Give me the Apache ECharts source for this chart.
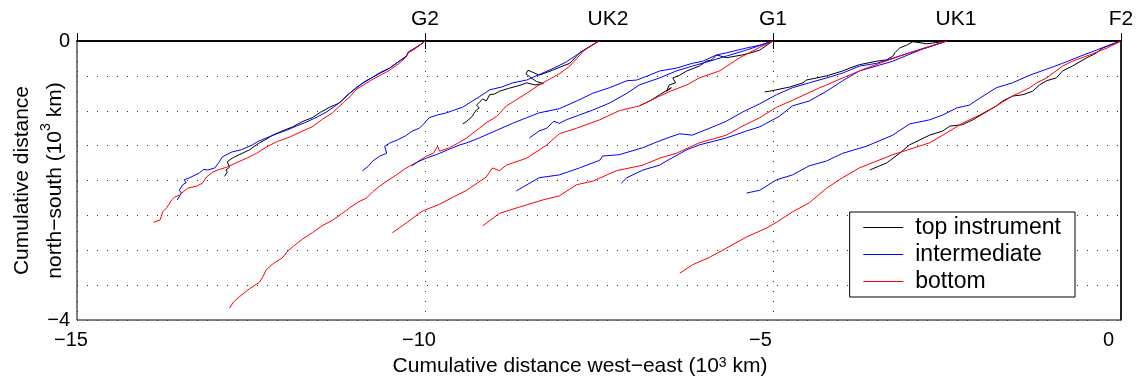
<!DOCTYPE html>
<html>
<head>
<meta charset="utf-8">
<script src="https://cdn.jsdelivr.net/npm/echarts@6/dist/echarts.min.js"></script>
<style>
  html, body { margin: 0; padding: 0; background: #fff; }
  #chart { width: 1137px; height: 387px; }
</style>
</head>
<body>
<div id="chart"></div>
<script>
// mooring positions on the top axis (10^3 km west-east)
const mooringPos = [-10, -7.5, -5, -2.5, 0];
const mooringNames = ["G2", "UK2", "G1", "UK1", "F2"];
const xTicks = [-15, -10, -5, 0];
const yTickLabels = { "0": "0", "-4": "\u22124" };
const seriesNames = ["top instrument", "intermediate", "bottom"];

// progressive vector tracks [west-east, north-south], 10^3 km
const g2Top = [[-10,0],[-10.05,-0.04],[-10.14,-0.10],[-10.24,-0.16],[-10.27,-0.22],[-10.37,-0.29],[-10.51,-0.39],[-10.64,-0.45],[-10.77,-0.53],[-10.88,-0.59],[-10.98,-0.67],[-11.1,-0.76],[-11.23,-0.89],[-11.30,-0.92],[-11.37,-0.95],[-11.5,-1.02],[-11.62,-1.10],[-11.75,-1.15],[-11.90,-1.23],[-12.05,-1.29],[-12.19,-1.35],[-12.30,-1.42],[-12.38,-1.46],[-12.52,-1.56],[-12.67,-1.63],[-12.77,-1.68],[-12.84,-1.73],[-12.81,-1.81],[-12.86,-1.85],[-12.84,-1.88],[-12.88,-1.94]];
const g2Mid = [[-10,0],[-10.05,-0.04],[-10.14,-0.10],[-10.24,-0.16],[-10.27,-0.22],[-10.37,-0.29],[-10.51,-0.39],[-10.64,-0.46],[-10.77,-0.53],[-10.98,-0.66],[-11.08,-0.75],[-11.19,-0.85],[-11.30,-0.94],[-11.42,-1.02],[-11.55,-1.09],[-11.70,-1.16],[-11.85,-1.22],[-11.99,-1.28],[-12.13,-1.33],[-12.28,-1.39],[-12.40,-1.44],[-12.48,-1.49],[-12.64,-1.56],[-12.77,-1.59],[-12.91,-1.66],[-12.96,-1.74],[-13.02,-1.82],[-13.12,-1.85],[-13.18,-1.84],[-13.24,-1.89],[-13.38,-1.96],[-13.46,-1.99],[-13.43,-2.03],[-13.48,-2.06],[-13.53,-2.14],[-13.50,-2.18],[-13.56,-2.28]];
const g2Bot = [[-10,0],[-10.05,-0.04],[-10.14,-0.11],[-10.24,-0.17],[-10.27,-0.23],[-10.37,-0.32],[-10.51,-0.42],[-10.64,-0.49],[-10.77,-0.56],[-10.98,-0.69],[-11.08,-0.80],[-11.16,-0.87],[-11.33,-1.03],[-11.47,-1.12],[-11.62,-1.23],[-11.78,-1.30],[-11.95,-1.38],[-12.12,-1.44],[-12.28,-1.52],[-12.42,-1.61],[-12.56,-1.68],[-12.70,-1.74],[-12.85,-1.81],[-12.95,-1.84],[-13.05,-1.88],[-13.14,-1.95],[-13.20,-2.04],[-13.28,-2.08],[-13.41,-2.11],[-13.53,-2.21],[-13.60,-2.24],[-13.64,-2.28],[-13.71,-2.39],[-13.77,-2.45],[-13.79,-2.52],[-13.81,-2.57],[-13.85,-2.58],[-13.90,-2.60]];

const uk2Top = [[-7.5,0],[-7.62,-0.07],[-7.78,-0.17],[-7.92,-0.32],[-8.05,-0.37],[-8.17,-0.42],[-8.36,-0.49],[-8.45,-0.45],[-8.52,-0.42],[-8.55,-0.47],[-8.50,-0.51],[-8.40,-0.58],[-8.30,-0.61],[-8.42,-0.63],[-8.54,-0.60],[-8.62,-0.63],[-8.69,-0.65],[-8.80,-0.68],[-8.93,-0.72],[-9.00,-0.76],[-9.07,-0.77],[-9.12,-0.86],[-9.17,-0.83],[-9.22,-0.88],[-9.26,-0.92],[-9.22,-0.96],[-9.26,-0.99],[-9.30,-1.04],[-9.32,-1.08],[-9.40,-1.15],[-9.46,-1.19]];
const uk2Mid = [[-7.5,0],[-7.71,-0.13],[-7.85,-0.22],[-7.97,-0.30],[-8.15,-0.39],[-8.31,-0.46],[-8.45,-0.52],[-8.54,-0.56],[-8.74,-0.60],[-8.90,-0.66],[-9.07,-0.70],[-9.22,-0.80],[-9.35,-0.88],[-9.46,-0.95],[-9.58,-0.99],[-9.69,-1.03],[-9.82,-1.06],[-9.94,-1.10],[-10.02,-1.19],[-10.08,-1.25],[-10.18,-1.29],[-10.28,-1.36],[-10.40,-1.42],[-10.50,-1.46],[-10.58,-1.51],[-10.55,-1.61],[-10.65,-1.65],[-10.75,-1.72],[-10.82,-1.80],[-10.90,-1.86]];
const uk2Bot = [[-7.5,0],[-7.71,-0.13],[-7.92,-0.36],[-8.07,-0.47],[-8.36,-0.63],[-8.54,-0.75],[-8.70,-0.85],[-8.83,-0.93],[-8.97,-1.08],[-9.10,-1.16],[-9.22,-1.25],[-9.40,-1.39],[-9.52,-1.46],[-9.65,-1.53],[-9.79,-1.58],[-9.82,-1.51],[-9.88,-1.61],[-9.98,-1.65],[-10.12,-1.74],[-10.27,-1.82],[-10.41,-1.92],[-10.52,-1.99],[-10.65,-2.08],[-10.75,-2.16],[-10.84,-2.25],[-10.96,-2.31],[-11.08,-2.39],[-11.20,-2.48],[-11.33,-2.57],[-11.48,-2.65],[-11.62,-2.75],[-11.76,-2.84],[-11.90,-2.95],[-11.98,-3.02],[-12.05,-3.11],[-12.18,-3.19],[-12.28,-3.28],[-12.33,-3.38],[-12.38,-3.46],[-12.52,-3.55],[-12.67,-3.67],[-12.75,-3.74],[-12.81,-3.83]];

const g1Top = [[-5,0],[-5.19,-0.13],[-5.32,-0.17],[-5.44,-0.20],[-5.67,-0.24],[-5.81,-0.20],[-5.88,-0.27],[-5.96,-0.29],[-6.06,-0.36],[-6.24,-0.43],[-6.34,-0.49],[-6.44,-0.53],[-6.40,-0.60],[-6.49,-0.63],[-6.53,-0.72],[-6.46,-0.67],[-6.63,-0.77],[-6.77,-0.86],[-6.92,-0.93]];
const g1Mid = [[-5,0],[-5.19,-0.06],[-5.38,-0.10],[-5.67,-0.17],[-5.81,-0.20],[-6.01,-0.29],[-6.16,-0.32],[-6.39,-0.39],[-6.63,-0.43],[-6.80,-0.50],[-6.96,-0.56],[-7.10,-0.57],[-7.35,-0.67],[-7.59,-0.75],[-7.82,-0.86],[-8.07,-0.97],[-8.36,-1.03],[-8.54,-1.10],[-8.74,-1.18],[-8.97,-1.28],[-9.22,-1.39],[-9.40,-1.46],[-9.50,-1.49],[-9.65,-1.55],[-9.79,-1.61],[-9.98,-1.68],[-10.10,-1.73],[-10.19,-1.79]];
const g1Mid2 = [[-5,0],[-5.38,-0.13],[-5.65,-0.21],[-5.91,-0.29],[-6.16,-0.36],[-6.39,-0.43],[-6.63,-0.53],[-6.92,-0.63],[-7.10,-0.75],[-7.35,-0.89],[-7.59,-0.99],[-7.78,-1.06],[-7.97,-1.13],[-8.07,-1.18],[-8.15,-1.15],[-8.25,-1.25],[-8.36,-1.29],[-8.50,-1.39]];
const g1Bot = [[-5,0],[-5.19,-0.09],[-5.48,-0.24],[-5.77,-0.43],[-6.06,-0.53],[-6.24,-0.63],[-6.45,-0.71],[-6.63,-0.79],[-6.92,-0.93],[-7.21,-1.00],[-7.49,-1.13],[-7.82,-1.25],[-8.07,-1.33],[-8.25,-1.49],[-8.54,-1.68],[-8.83,-1.78],[-8.93,-1.86],[-9.03,-1.82],[-9.12,-1.95],[-9.40,-2.14],[-9.60,-2.24],[-9.79,-2.34],[-10.04,-2.44],[-10.27,-2.61],[-10.47,-2.75]];

const uk1Top = [[-2.5,0],[-2.71,-0.03],[-2.79,-0.04],[-2.99,-0.01],[-3.08,-0.06],[-3.18,-0.10],[-3.25,-0.17],[-3.28,-0.22],[-3.37,-0.27],[-3.51,-0.29],[-3.76,-0.34],[-3.90,-0.39],[-4.00,-0.43],[-4.23,-0.50],[-4.52,-0.56],[-4.57,-0.60],[-4.76,-0.66],[-4.81,-0.67],[-5.05,-0.72],[-5.12,-0.73]];
const uk1Mid = [[-2.5,0],[-3.04,-0.17],[-3.51,-0.32],[-3.76,-0.36],[-4.00,-0.46],[-4.23,-0.53],[-4.48,-0.60],[-4.72,-0.67],[-4.95,-0.77],[-5.19,-0.90],[-5.44,-1.02],[-5.67,-1.15],[-5.91,-1.25],[-6.16,-1.35],[-6.34,-1.33],[-6.49,-1.38],[-6.70,-1.46],[-6.87,-1.53],[-7.21,-1.63],[-7.45,-1.65],[-7.49,-1.71],[-7.78,-1.82],[-8.07,-1.92],[-8.36,-1.96],[-8.69,-2.15]];
const uk1Mid2 = [[-2.5,0],[-2.89,-0.13],[-3.28,-0.29],[-3.76,-0.43],[-4.00,-0.57],[-4.23,-0.72],[-4.48,-0.86],[-4.72,-0.93],[-4.91,-1.08],[-5.19,-1.23],[-5.38,-1.29],[-5.67,-1.39],[-6.06,-1.49],[-6.24,-1.56],[-6.53,-1.72],[-6.63,-1.78],[-6.87,-1.85],[-7.10,-1.96],[-7.18,-2.04]];
const uk1Bot = [[-2.5,0],[-3.04,-0.17],[-3.33,-0.27],[-3.66,-0.39],[-4.00,-0.53],[-4.23,-0.63],[-4.33,-0.67],[-4.72,-0.85],[-4.95,-0.95],[-5.19,-1.10],[-5.44,-1.22],[-5.67,-1.35],[-6.06,-1.46],[-6.39,-1.61],[-6.63,-1.68],[-6.87,-1.78],[-7.25,-1.86],[-7.59,-2.01],[-7.82,-2.06],[-8.07,-2.22],[-8.31,-2.28],[-8.64,-2.38],[-8.93,-2.47],[-9.17,-2.65]];

const f2Top = [[0,0],[-0.16,-0.06],[-0.26,-0.10],[-0.35,-0.17],[-0.49,-0.24],[-0.70,-0.36],[-0.84,-0.43],[-0.93,-0.53],[-1.07,-0.57],[-1.17,-0.63],[-1.27,-0.72],[-1.41,-0.77],[-1.56,-0.79],[-1.70,-0.86],[-1.79,-0.93],[-1.89,-0.99],[-2.13,-1.13],[-2.28,-1.20],[-2.46,-1.22],[-2.56,-1.29],[-2.75,-1.35],[-3.04,-1.49],[-3.18,-1.61],[-3.37,-1.75],[-3.47,-1.79],[-3.61,-1.85]];
const f2Mid = [[0,0],[-0.20,-0.07],[-0.35,-0.13],[-0.59,-0.22],[-0.84,-0.32],[-1.03,-0.39],[-1.31,-0.49],[-1.56,-0.60],[-1.79,-0.67],[-2.03,-0.82],[-2.18,-0.92],[-2.36,-0.96],[-2.56,-1.06],[-2.75,-1.13],[-3.04,-1.19],[-3.28,-1.35],[-3.66,-1.51],[-4.00,-1.61],[-4.23,-1.72],[-4.48,-1.79],[-4.72,-1.92],[-4.95,-1.99],[-5.19,-2.14],[-5.38,-2.18]];
const f2Bot = [[0,0],[-0.20,-0.10],[-0.45,-0.20],[-0.70,-0.29],[-0.84,-0.36],[-1.07,-0.53],[-1.21,-0.60],[-1.31,-0.67],[-1.56,-0.79],[-1.79,-0.93],[-2.03,-1.06],[-2.28,-1.18],[-2.51,-1.32],[-2.75,-1.46],[-3.28,-1.63],[-3.76,-1.82],[-4.00,-1.96],[-4.23,-2.11],[-4.48,-2.32],[-4.72,-2.45],[-4.95,-2.60],[-5.09,-2.68],[-5.38,-2.81],[-5.67,-2.97],[-5.91,-3.10],[-6.16,-3.21],[-6.34,-3.33]];

// [track, instrument level] — level indexes seriesNames
const tracks = [
  [g2Top, 0], [g2Mid, 1], [g2Bot, 2],
  [uk2Top, 0], [uk2Mid, 1], [uk2Bot, 2],
  [g1Top, 0], [g1Mid, 1], [g1Mid2, 1], [g1Bot, 2],
  [uk1Top, 0], [uk1Mid, 1], [uk1Mid2, 1], [uk1Bot, 2],
  [f2Top, 0], [f2Mid, 1], [f2Bot, 2]
];
const colors = ["#000000", "#0000ff", "#ff0000"];
const font = "'Liberation Sans', Arial, Helvetica, sans-serif";

// bottom tick labels sit a little left of their ticks, as in the original
function xLabel(v) {
  const txt = String(v).replace("-", "\u2212");
  return (v === -5 || v === 0) ? "{b|" + txt + "}" : "{a|" + txt + "}";
}

const chart = echarts.init(document.getElementById("chart"));
chart.setOption({
  animation: false,
  color: colors,
  textStyle: { fontFamily: font, color: "#000" },
  grid: {
    left: 77, right: 16, top: 41, bottom: 67,
    outerBoundsMode: "none", containLabel: false,
    show: true, borderColor: "#000", borderWidth: 1
  },
  legend: {
    data: seriesNames.map((name, i) => ({
      name: name,
      itemStyle: { opacity: 0 },
      lineStyle: { color: colors[i], width: 1.2, opacity: 1 }
    })),
    orient: "vertical",
    right: 62,
    top: 212,
    itemWidth: 40,
    itemHeight: 14,
    itemGap: 4,
    padding: [4, 14, 4, 13],
    backgroundColor: "#fff",
    borderColor: "#000",
    borderWidth: 1,
    textStyle: { fontSize: 23, color: "#000", fontFamily: font, padding: [0, 0, 0, 7] }
  },
  xAxis: [
    {
      type: "value", min: -15, max: 0, interval: 5,
      axisLine: { lineStyle: { color: "#000", width: 1.5 } },
      axisTick: { inside: true, length: 8, lineStyle: { color: "#000" } },
      axisLabel: {
        fontSize: 20, color: "#000", margin: 10, formatter: xLabel,
        rich: {
          a: { fontSize: 20, fontFamily: font, padding: [0, 12, 0, 0] },
          b: { fontSize: 20, fontFamily: font, padding: [0, 25, 0, 0] }
        }
      },
      splitLine: { show: true, lineStyle: { color: "#333", type: [1, 9] } },
      name: "Cumulative distance west\u2212east (10{sup|3} km)",
      nameLocation: "middle",
      nameGap: 36,
      nameTextStyle: {
        fontSize: 21, color: "#000", fontFamily: font, padding: [0, 38, 0, 0],
        rich: { sup: { fontSize: 14, verticalAlign: "top", fontFamily: font } }
      }
    },
    {
      type: "value", position: "top", min: -15, max: 0, interval: 2.5,
      axisLine: { lineStyle: { color: "#000", width: 1.5 } },
      axisTick: { inside: true, length: 8, customValues: [-10, -5], lineStyle: { color: "#000" } },
      axisLabel: {
        fontSize: 21, color: "#000", margin: 11,
        customValues: mooringPos,
        formatter: v => {
          const name = mooringNames[mooringPos.indexOf(v)] || "";
          return name.startsWith("UK") ? "{uk|" + name + "}" : name;
        },
        rich: { uk: { fontSize: 21, fontFamily: font, padding: [0, 0, 0, 18] } }
      },
      splitLine: { show: false }
    }
  ],
  yAxis: {
    type: "value", min: -4, max: 0, interval: 0.5,
    axisLine: { lineStyle: { color: "#000", width: 1.5 } },
    axisTick: { show: false },
    axisLabel: { fontSize: 20, color: "#000", margin: 7, formatter: v => yTickLabels[String(v)] || "" },
    splitLine: { show: true, lineStyle: { color: "#333", type: [1, 9] } },
    name: "Cumulative distance\nnorth\u2212south (10{sup|3} km)",
    nameLocation: "middle",
    nameRotate: 90,
    nameGap: 5,
    nameMoveOverlap: false,
    nameTextStyle: {
      fontSize: 21, color: "#000", fontFamily: font, lineHeight: 33,
      rich: { sup: { fontSize: 14, verticalAlign: "top", fontFamily: font } }
    }
  },
  series: tracks.map(([data, level]) => ({
    name: seriesNames[level],
    type: "line",
    data: data,
    symbol: "none",
    color: colors[level],
    lineStyle: { width: 1, color: colors[level] },
    xAxisIndex: 0
  }))
});
</script>
</body>
</html>
